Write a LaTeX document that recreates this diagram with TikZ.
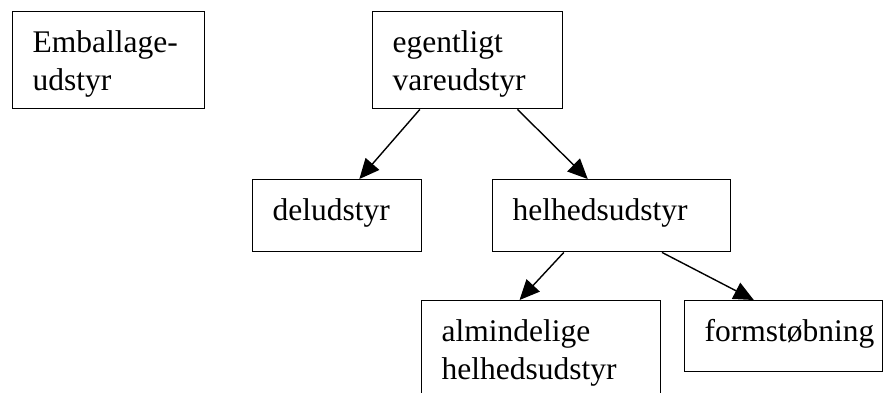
\documentclass[tikz,border=0pt]{standalone}
\usepackage{fontspec}
\setmainfont{Liberation Serif}
\usetikzlibrary{arrows.meta,calc}

\begin{document}
\begin{tikzpicture}[x=1pt,y=-1pt,
    wbox/.style={draw, line width=1.4pt, anchor=north west, inner xsep=20pt, inner ysep=19pt,
      font=\fontsize{31.5}{38}\selectfont},
    arr/.style={line width=1.4pt, -{Triangle[length=20pt,width=18pt]}}]
        % \draw[help lines, gray!50, very thin] (0,0) grid[step=50] (891,392);
        \useasboundingbox (0,0) rectangle (891,392);
        \clip (0,0) rectangle (891,392);

        \node[wbox] (emballage) at (12,11) {\parbox[t][59pt][t]{152pt}{Emballage-\\udstyr}};
        \node[wbox] (vare) at (372,11) {\parbox[t][59pt][t]{150pt}{egentligt\\vareudstyr}};

        \node[wbox] (del) at (252,179) {\parbox[t][34pt][t]{129pt}{deludstyr}};
        \node[wbox] (helhed) at (492,179) {\parbox[t][34pt][t]{198pt}{helhedsudstyr}};

        \node[wbox] (almindelig) at (421,300) {\parbox[t][72pt][t]{199pt}{almindelige\\helhedsudstyr}};
        \node[wbox] (form) at (684,300) {\parbox[t][33pt][t]{158pt}{formstøbning}};

        \draw[arr] ($(vare.south west)!0.25!(vare.south east)$) -- ($(del.north west)!0.63!(del.north east)$);
        \draw[arr] ($(vare.south west)!0.76!(vare.south east)$) -- ($(helhed.north west)!0.4!(helhed.north east)$);

        \draw[arr] ($(helhed.south west)!0.3!(helhed.south east)$) -- ($(almindelig.north west)!0.41!(almindelig.north east)$);
        \draw[arr] ($(helhed.south west)!0.71!(helhed.south east)$) -- ($(form.north west)!0.35!(form.north east)$);
      \end{tikzpicture}
\end{document}
